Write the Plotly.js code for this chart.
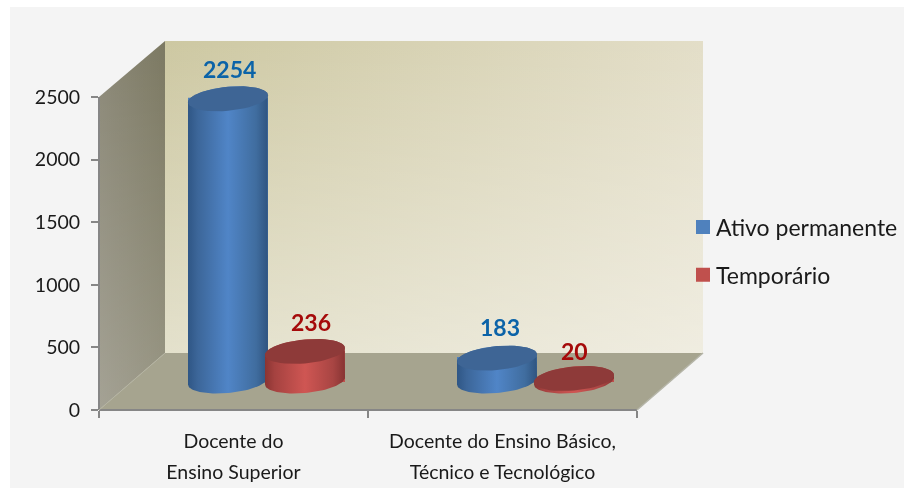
<!DOCTYPE html>
<html><head><meta charset="utf-8">
<script src="https://cdn.plot.ly/plotly-3.0.1.min.js"></script>
<style>html,body{margin:0;padding:0;background:#fff}#chart{width:904px;height:488px;filter:blur(0.35px)}</style>
</head><body><div id="chart"></div>
<script>
// ---- data ----
const categoriesLine1 = ['Docente do', 'Docente do Ensino Básico,'];
const categoriesLine2 = ['Ensino Superior', 'Técnico e Tecnológico'];
const ativoPermanente = [2254, 183];
const temporario = [236, 20];
const yTicks = [0, 500, 1000, 1500, 2000, 2500];

// ---- geometry of the pseudo-3D frame (page pixels) ----
const W = 904, H = 488;
const front = {l: 99, r: 637, t: 97, b: 410};
const depth = {x: 66, y: 57};
const pxPerCat = (front.r - front.l) / 2;
const pxPerUnit = (front.b - front.t) / 2500;
const R = {a: 40, b: 12, s: 3.5};
const sep = 38.5;

const xMax = (front.r + depth.x - front.l) / pxPerCat;
const yMax = (front.b - (front.t - 56)) / pxPerUnit;
const dX = p => p / pxPerCat, dY = p => p / pxPerUnit;
const midX = dX(depth.x / 2), baseY = dY(29);

function poly(pts, extra) {
  return Object.assign({x: pts.map(p => p[0]), y: pts.map(p => p[1]), xaxis: 'x', yaxis: 'y',
    type: 'scatter', mode: 'lines', line: {width: 0}, fill: 'toself', hoverinfo: 'skip', showlegend: false}, extra);
}
const bw = {l: front.l + depth.x, r: front.r + depth.x, t: front.t - 56, b: front.b - depth.y};
const backRect = [[bw.l,bw.t],[bw.r,bw.t],[bw.r,bw.b],[bw.l,bw.b],[bw.l,bw.t]];
const sideWall = [[front.l,front.t],[bw.l,bw.t],[bw.l,bw.b],[front.l,front.b],[front.l,front.t]];
const walls = [
  poly(backRect, {fillgradient: {type: 'horizontal', colorscale: [[0,'#cdc8a2'],[1,'#e3dec8']]}}),
  poly(backRect, {fillgradient: {type: 'vertical', colorscale: [[0,'rgba(255,255,255,0.45)'],[1,'rgba(255,255,255,0)']]}}),
  poly(sideWall, {fillgradient: {type: 'horizontal', colorscale: [[0,'#8b8877'],[1,'#7c7962']]}}),
  poly(sideWall, {fillgradient: {type: 'vertical', colorscale: [[0,'rgba(255,255,255,0.22)'],[1,'rgba(255,255,255,0)']]}}),
  poly([[front.l,front.b],[front.r,front.b],[bw.r,bw.b],[bw.l,bw.b],[front.l,front.b]], {fillcolor: '#a6a48f'})
];

function ellipseArc(cx, cy, t0, t1) {
  const out = [];
  for (let k = 0; k <= 48; k++) {
    const t = t0 + (t1 - t0) * k / 48;
    out.push([cx + dX(R.a) * Math.cos(t), cy + dY(R.b) * Math.sin(t) + dY(R.s) * Math.cos(t)]);
  }
  return out;
}
function cylinder(cx, val, scale, topColor) {
  const top = baseY + val;
  const lower = ellipseArc(cx, baseY, Math.PI, 2 * Math.PI);   // left -> right below
  const upper = ellipseArc(cx, top, 0, Math.PI);               // right -> left above
  const body = lower.concat(upper);
  body.push(body[0]);
  const c = poly(ellipseArc(cx, top, 0, 2 * Math.PI), {xaxis: 'x2', yaxis: 'y2', fillcolor: topColor});
  const b = poly(body, {xaxis: 'x2', yaxis: 'y2', fillgradient: {type: 'horizontal', colorscale: scale}});
  return [b, c];
}
const blueScale = [[0,'#2f5685'],[0.12,'#3c6699'],[0.5,'#5085c7'],[0.85,'#406d9f'],[1,'#2f5480']];
const redScale = [[0,'#8a3432'],[0.12,'#a54240'],[0.5,'#cf5653'],[0.85,'#a84543'],[1,'#873433']];
const groupCenters = [0.5 + midX, 1.5 + midX];

const barW = dX(R.a * 2 - 2);
const bars = [
  {name: 'Ativo permanente', vals: ativoPermanente, off: -sep, color: '#4f81bd'},
  {name: 'Temporário', vals: temporario, off: sep, color: '#c0504d'}
].map(s => ({
  type: 'bar', name: s.name, legendgroup: s.name, xaxis: 'x2', yaxis: 'y2',
  x: groupCenters.map(c => c + dX(s.off)), y: s.vals, base: baseY, width: barW,
  marker: {color: s.color, line: {color: s.color, width: 2}}, hoverinfo: 'x+y'
}));

const cylinders = [];
[0, 1].forEach(i => {
  cylinders.push(...cylinder(groupCenters[i] - dX(sep), ativoPermanente[i], blueScale, '#3e6595'));
});
[0, 1].forEach(i => {
  cylinders.push(...cylinder(groupCenters[i] + dX(sep), temporario[i], redScale, '#8e3a39'));
});
// carrier so that the second tick-label axis is drawn
const labelAxisCarrier = {type: 'scatter', mode: 'markers', x: [0.5, 1.5], y: [0, 0], xaxis: 'x3', yaxis: 'y2',
  marker: {opacity: 0, size: 1}, hoverinfo: 'skip', showlegend: false};

const labelFont = c => ({family: 'Lato, sans-serif', size: 23, color: c, weight: 700});
const annos = [];
[[ativoPermanente, -sep, '#0b63a8', [1, 3], [30, 31]], [temporario, sep, '#a50a0a', [6, 0], [29, 28]]].forEach(([vals, off, col, xs, ys]) => {
  vals.forEach((v, i) => annos.push({
    xref: 'x2', yref: 'y2', x: groupCenters[i] + dX(off), y: baseY + v, text: '<b>' + v + '</b>',
    showarrow: false, yshift: ys[i], xshift: xs[i], font: labelFont(col)
  }));
});

const tickFont = {family: 'Lato, sans-serif', size: 19.5, color: '#1a1a1a'};
const line = (x0, y0, x1, y1, color, width) => ({type: 'line', xref: 'x', yref: 'y', x0, y0, x1, y1, layer: 'above', line: {color, width}});

const layout = {
  width: W, height: H, margin: {l: 0, r: 0, t: 0, b: 0}, paper_bgcolor: '#ffffff', plot_bgcolor: 'rgba(0,0,0,0)',
  barmode: 'overlay', showlegend: true, hovermode: 'closest',
  xaxis: {domain: [0, 1], range: [0, W], visible: false, fixedrange: true},
  yaxis: {domain: [0, 1], range: [H, 0], visible: false, fixedrange: true},
  xaxis2: {domain: [front.l / W, (front.r + depth.x) / W], range: [0, xMax], anchor: 'y2', showgrid: false, zeroline: false,
    tickmode: 'array', tickvals: [0.5, 1.5], ticktext: categoriesLine1, ticks: '', tickfont: tickFont, ticklabelstandoff: 17,
    minor: {tickmode: 'array', tickvals: [0, 1, 2], ticks: 'outside', ticklen: 7, tickwidth: 2, tickcolor: '#868686', showgrid: false}},
  xaxis3: {overlaying: 'x2', range: [0, xMax], anchor: 'y2', showgrid: false, zeroline: false, side: 'bottom',
    tickmode: 'array', tickvals: [0.5, 1.5], ticktext: categoriesLine2, ticks: '', tickfont: tickFont, ticklabelstandoff: 48},
  yaxis2: {domain: [(H - front.b) / H, (H - bw.t) / H], range: [0, yMax], anchor: 'x2', showgrid: false, zeroline: false,
    tickmode: 'array', tickvals: yTicks, ticks: 'outside', ticklen: 7, tickwidth: 2, tickcolor: '#868686', tickfont: tickFont, ticklabelstandoff: 7},
  legend: {x: 676 / W, y: 1 - 251 / H, xanchor: 'left', yanchor: 'middle', tracegroupgap: 15, bgcolor: 'rgba(0,0,0,0)',
    font: {family: 'Lato, sans-serif', size: 23, color: '#1a1a1a'}},
  annotations: annos,
  shapes: [
    {type: 'rect', xref: 'x', yref: 'y', x0: 10, x1: W, y0: 7, y1: H, layer: 'below', fillcolor: '#f4f4f4', line: {width: 0}},
    line(front.l, front.t, front.l, front.b, '#868686', 2),
    line(front.l, front.b, front.r, front.b, '#868686', 2),
    line(front.r, front.b, bw.r, bw.b, '#b5b5a8', 1.5),
    line(front.l, front.b, bw.l, bw.b, '#b5b4a2', 1)
  ]
};
Plotly.newPlot('chart', walls.concat(bars, cylinders, [labelAxisCarrier]), layout, {displayModeBar: false, staticPlot: true}).then(gd => {
  gd.querySelectorAll('.legend .legendpoints').forEach(n => n.setAttribute('transform', 'translate(7,0)'));
});
</script></body></html>
